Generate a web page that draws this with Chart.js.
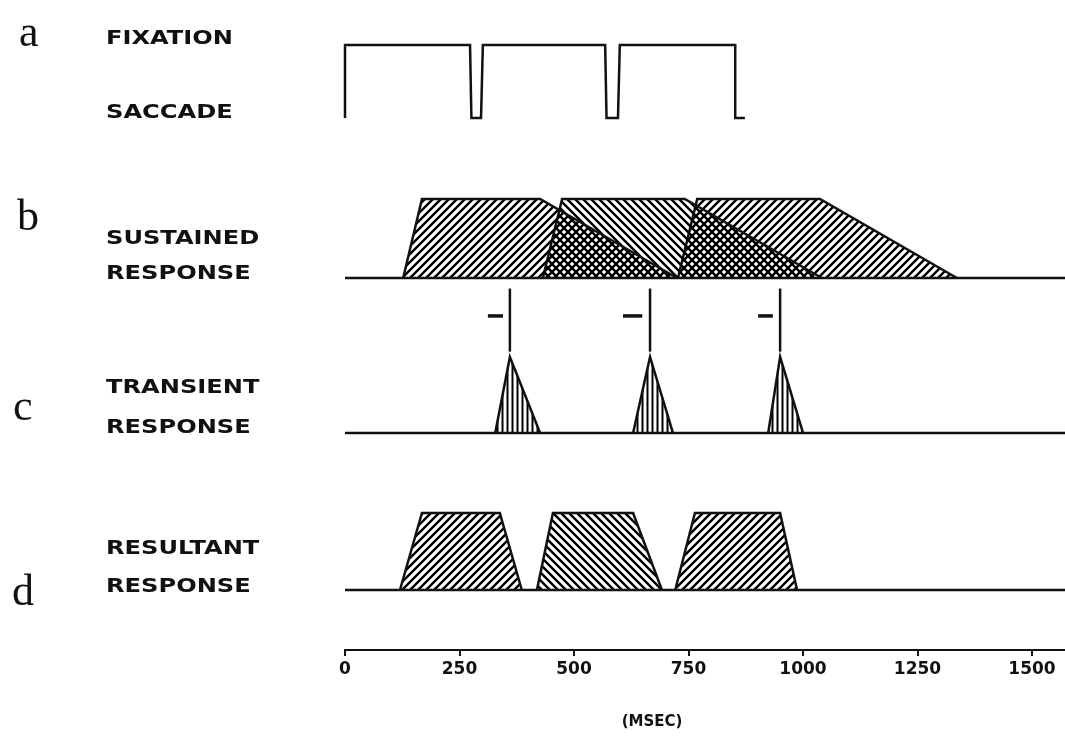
<!DOCTYPE html>
<html>
<head>
<meta charset="utf-8">
<script src="https://cdn.jsdelivr.net/npm/chart.js@4/dist/chart.umd.min.js"></script>
<style>
  html, body { margin: 0; padding: 0; background: #fff; }
  #wrap { width: 1065px; height: 736px; position: relative; }
</style>
</head>
<body>
<div id="wrap"><canvas id="chart"></canvas></div>
<script>
// --- time axis (msec) ---
const xTicks = [0, 250, 500, 750, 1000, 1250, 1500];
const xMax = 1572;
const xTitle = "(MSEC)";

// --- panel text ---
const panelLetters = ["a", "b", "c", "d"];
const panelNames = [
    ["FIXATION", "SACCADE"],
    ["SUSTAINED", "RESPONSE"],
    ["TRANSIENT", "RESPONSE"],
    ["RESULTANT", "RESPONSE"]
];

// a: fixation (1) / saccade (0)
const fixTime  = [0, 0, 273, 276, 297, 301, 568, 571, 596, 600, 852, 852, 873];
const fixLevel = [0, 1, 1,   0,   0,   1,   1,   0,   0,   1,   1,   0,   0];

// b: sustained responses
const sus1Time = [127, 168, 426, 725];
const sus2Time = [432, 474, 742, 1041];
const sus3Time = [727, 769, 1037, 1336];
const susLevel = [0, 1, 1, 0];

// c: transient responses + saccade markers
const tr1Time = [328, 360, 426];
const tr2Time = [629, 666, 716];
const tr3Time = [924, 950, 1000];
const trLevel = [0, 1, 0];
const markTime = [360, 666, 950];
const markLevel = [1.07, 1.9];
const dashStart = [312, 607, 902];
const dashEnd = [345, 649, 934];
const dashLevel = 1.54;

// d: resultant responses
const res1Time = [120, 168, 338, 386];
const res2Time = [419, 454, 629, 692];
const res3Time = [721, 764, 950, 987];
const resLevel = [0, 1, 1, 0];

// baseline
const baseTime = [0, xMax];
const baseLevel = [0, 0];

// --- helpers ---
function pts(ts, ys) {
    return ts.map((t, i) => ({ x: t, y: Array.isArray(ys) ? ys[i] : ys }));
}

function hatch(kind) {
    let c = document.createElement("canvas");
    let g = c.getContext("2d");
    g.strokeStyle = "#111";
    if (kind === "|") {
        c.width = 5; c.height = 5;
        g.lineWidth = 2;
        g.beginPath(); g.moveTo(2.5, 0); g.lineTo(2.5, 5); g.stroke();
    } else {
        c.width = 8; c.height = 8;
        g.lineWidth = 2.4;
        g.beginPath();
        if (kind === "/") {
            g.moveTo(-4, 4); g.lineTo(4, -4);
            g.moveTo(0, 8); g.lineTo(8, 0);
            g.moveTo(4, 12); g.lineTo(12, 4);
        } else {
            g.moveTo(-4, 4); g.lineTo(4, 12);
            g.moveTo(0, 0); g.lineTo(8, 8);
            g.moveTo(4, -4); g.lineTo(12, 4);
        }
        g.stroke();
    }
    return g.createPattern(c, "repeat");
}

const fwd = hatch("/"), back = hatch("\\"), vert = hatch("|");

function trace(data, yAxisID, width) {
    return { data, yAxisID, borderColor: "#111", borderWidth: width || 2.5, fill: false, pointRadius: 0, clip: 4 };
}
function area(data, yAxisID, pattern) {
    return { data, yAxisID, borderColor: "#111", borderWidth: 2.5, fill: "origin", backgroundColor: pattern, pointRadius: 0, clip: 4 };
}

let datasets = [
    trace(pts(fixTime, fixLevel), "yA"),

    trace(pts(baseTime, baseLevel), "yB"),
    area(pts(sus1Time, susLevel), "yB", fwd),
    area(pts(sus2Time, susLevel), "yB", back),
    area(pts(sus3Time, susLevel), "yB", fwd),

    trace(pts(baseTime, baseLevel), "yC"),
    area(pts(tr1Time, trLevel), "yC", vert),
    area(pts(tr2Time, trLevel), "yC", vert),
    area(pts(tr3Time, trLevel), "yC", vert),

    trace(pts(baseTime, baseLevel), "yD"),
    area(pts(res1Time, resLevel), "yD", fwd),
    area(pts(res2Time, resLevel), "yD", back),
    area(pts(res3Time, resLevel), "yD", fwd)
];
markTime.forEach((t, i) => {
    datasets.push(trace(pts([t, t], markLevel), "yC", 2.5));
    datasets.push(trace(pts([dashStart[i], dashEnd[i]], dashLevel), "yC", 3.5));
});

// --- text drawn beside the panels ---
function wideText(ctx, s, x, y, k) {
    ctx.save();
    ctx.translate(x, y);
    ctx.scale(k, 1);
    ctx.fillText(s, 0, 0);
    ctx.restore();
}

const panelText = {
    id: "panelText",
    afterDraw(chart) {
        const ctx = chart.ctx;
        const ys = ["yA", "yB", "yC", "yD"].map(id => chart.scales[id]);
        const base = ys.map(s => s.getPixelForValue(0));
        ctx.save();
        ctx.fillStyle = "#111";

        ctx.font = '44px "Liberation Serif"';
        ctx.textBaseline = "alphabetic";
        const letterY = [ys[0].getPixelForValue(1) + 1, base[1] - 48, base[2] - 13, base[3] + 15];
        const letterX = [19, 17, 13, 12];
        panelLetters.forEach((l, i) => ctx.fillText(l, letterX[i], letterY[i]));

        ctx.font = 'bold 19px "DejaVu Sans"';
        ctx.textBaseline = "middle";
        const nameY = [
            [ys[0].getPixelForValue(1) - 6, base[0] - 5],
            [base[1] - 39, base[1] - 4],
            [base[2] - 45, base[2] - 5],
            [base[3] - 41, base[3] - 3]
        ];
        panelNames.forEach((pair, i) => {
            pair.forEach((s, j) => wideText(ctx, s, 106, nameY[i][j], 1.27));
        });

        ctx.font = 'bold 15px "DejaVu Sans"';
        ctx.textAlign = "center";
        wideText(ctx, xTitle, chart.chartArea.left + 307, 722, 1);
        ctx.restore();
    }
};

new Chart(document.getElementById("chart"), {
    type: "line",
    data: { datasets },
    plugins: [panelText],
    options: {
        responsive: true,
        maintainAspectRatio: false,
        animation: false,
        layout: { padding: { left: 345, top: 20, right: 0, bottom: 0 } },
        plugins: { legend: { display: false }, tooltip: { enabled: false } },
        elements: { line: { tension: 0, borderJoinStyle: "miter" } },
        scales: {
            x: {
                type: "linear",
                min: 0,
                max: xMax,
                afterFit: s => { s.height = 86; },
                afterBuildTicks: s => { s.ticks = xTicks.map(v => ({ value: v })); },
                ticks: {
                    color: "#111",
                    padding: 3,
                    font: { family: "DejaVu Sans", size: 17, weight: "bold" },
                    callback: v => String(v)
                },
                grid: { display: true, drawOnChartArea: false, color: "#111", lineWidth: 2, tickLength: 6 },
                border: { display: true, color: "#111", width: 2 }
            },
            // left-hand stacked axes are placed last-first, so the bottom panel comes first here
            yD: { type: "linear", display: false, stack: "panels", stackWeight: 200, min: -0.779, max: 1.818 },
            yC: { type: "linear", display: false, stack: "panels", stackWeight: 165, min: -0.224, max: 1.947 },
            yB: { type: "linear", display: false, stack: "panels", stackWeight: 135, min: -0.089, max: 1.62 },
            yA: { type: "linear", display: false, stack: "panels", stackWeight: 130, min: -0.438, max: 1.342 }
        }
    }
});
</script>
</body>
</html>
